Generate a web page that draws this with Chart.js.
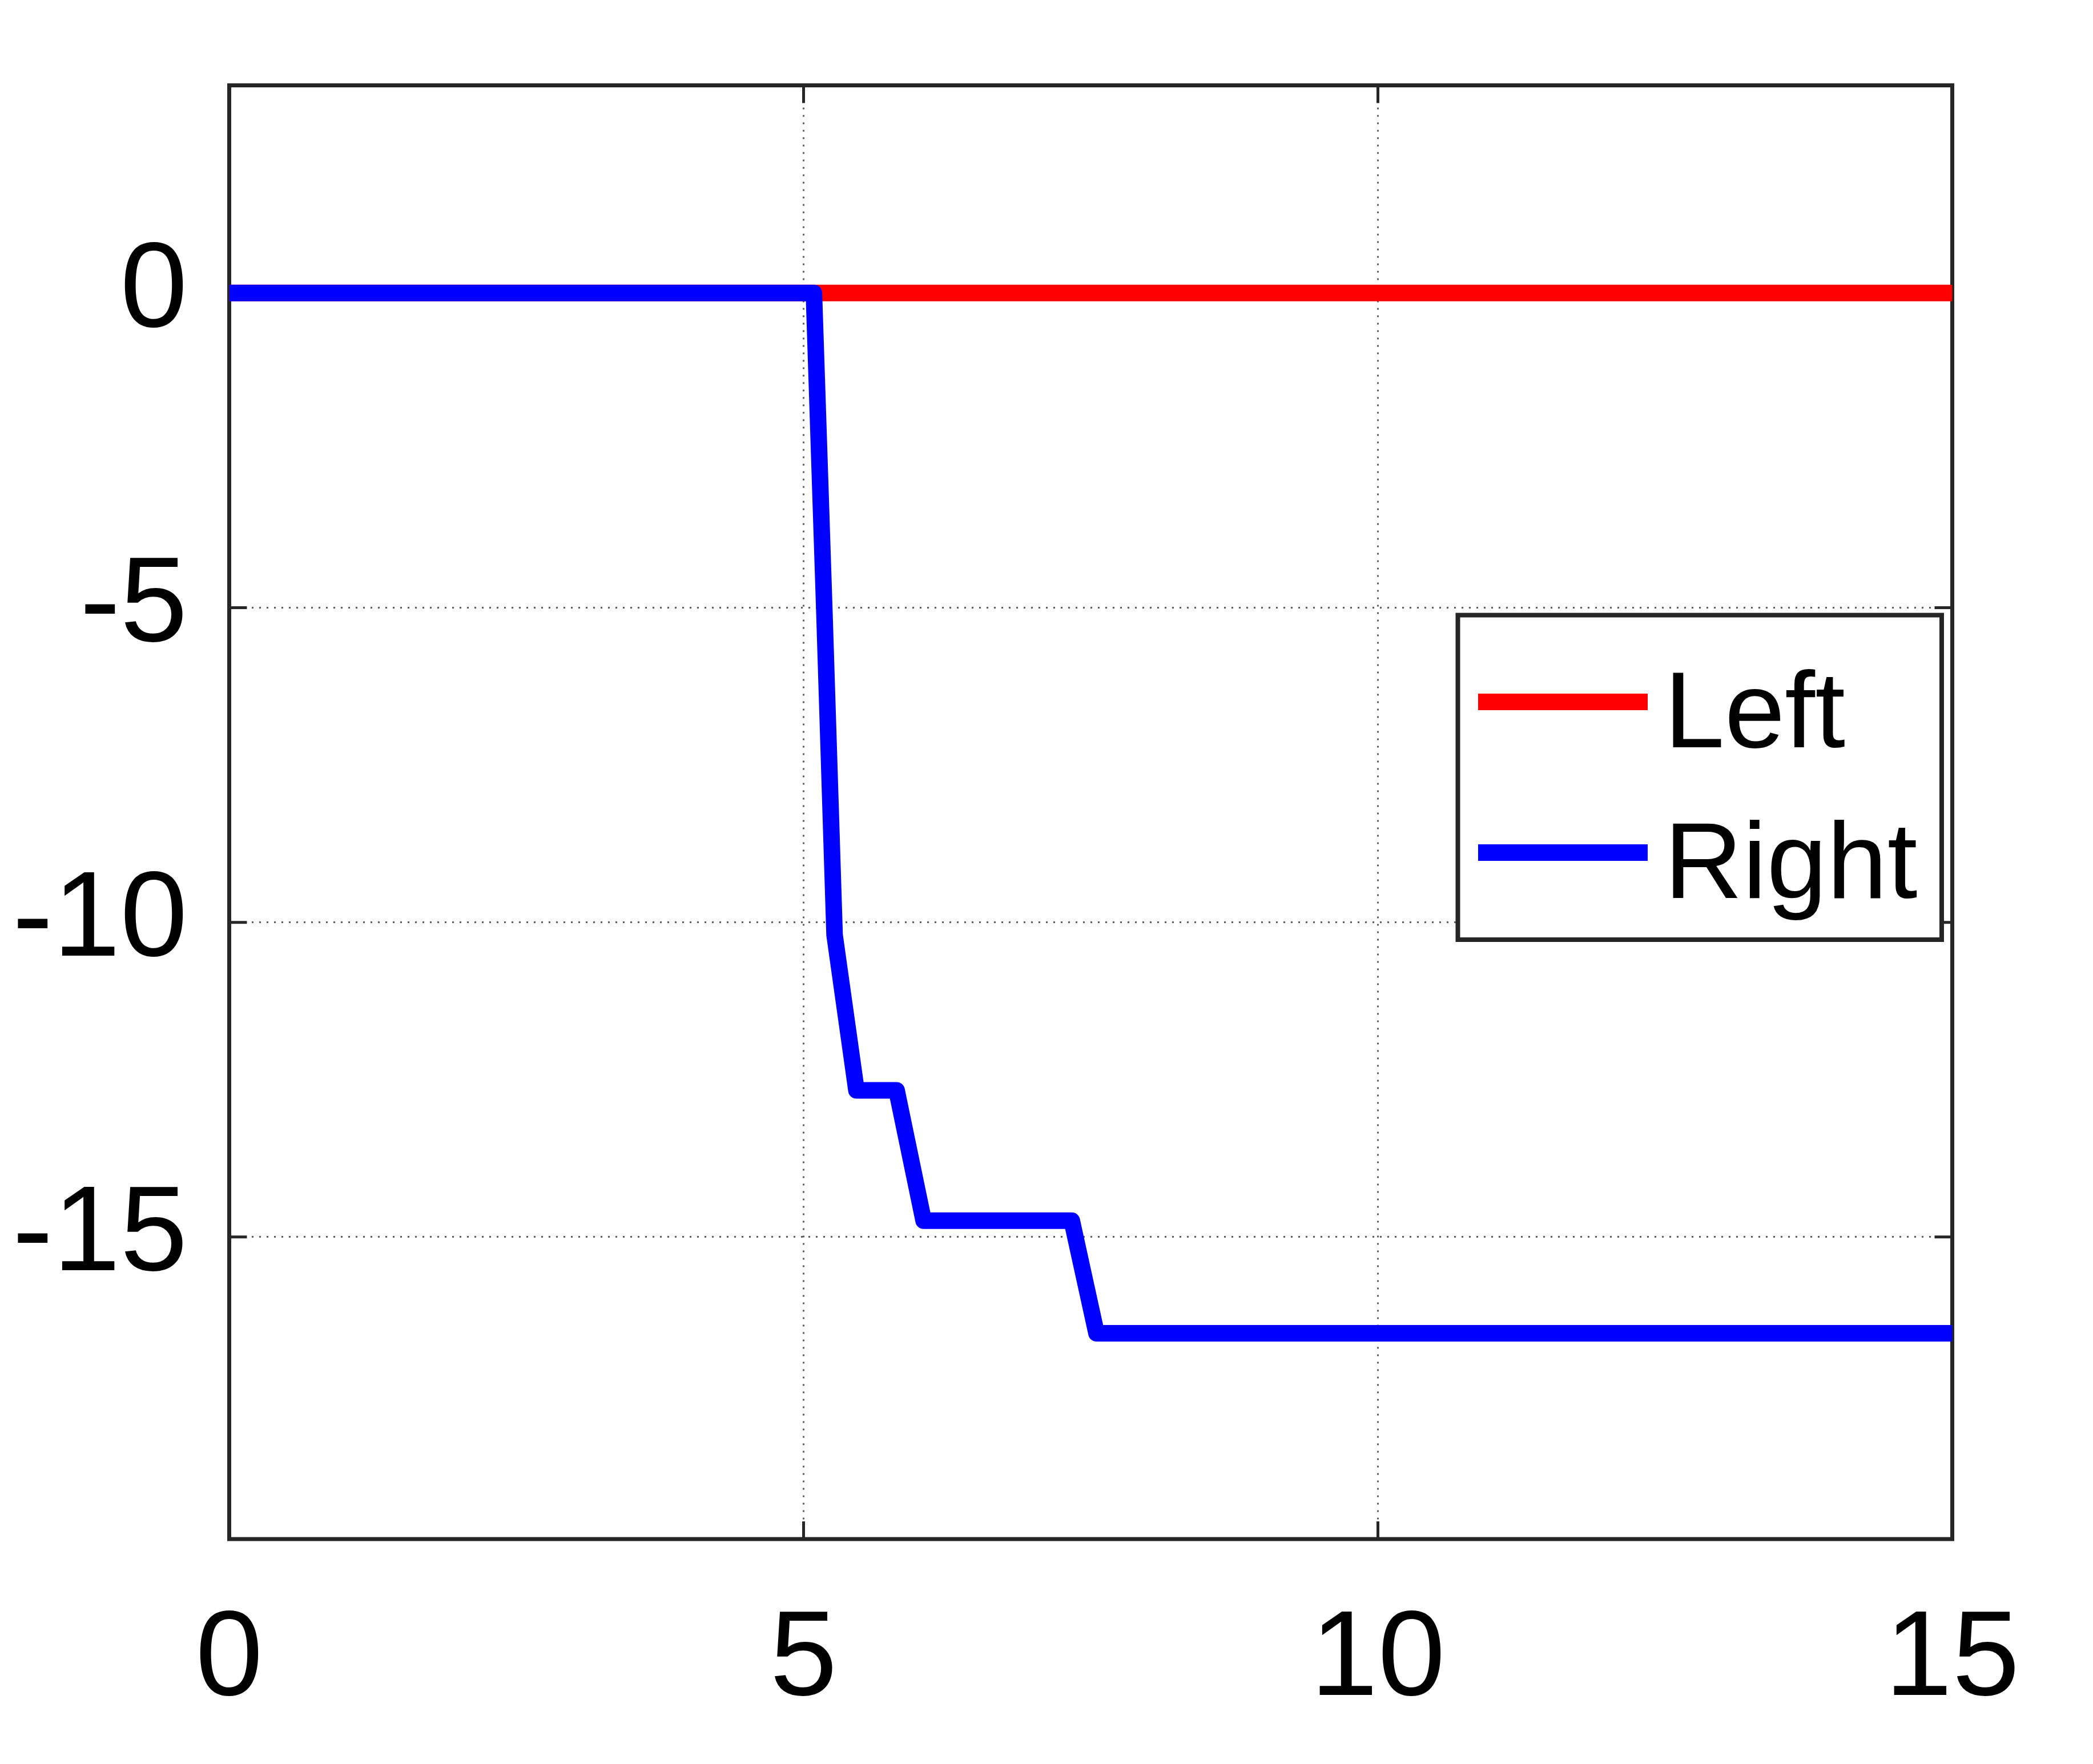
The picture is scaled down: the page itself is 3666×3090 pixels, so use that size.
<!DOCTYPE html>
<html><head><meta charset="utf-8">
<script src="https://cdn.jsdelivr.net/npm/chart.js@4.4.1/dist/chart.umd.min.js"></script>
<style>html,body{margin:0;padding:0;background:#fff;} canvas{display:block;}</style>
</head><body>
<canvas id="c" width="3666" height="3090"></canvas>
<script>
// ---- data ----
const xTicks = [0, 5, 10, 15];
const yTicks = [-15, -10, -5, 0];
const seriesNames = ['Left', 'Right'];
const seriesColors = ['#FF0000', '#0000FF'];
const leftX = [0, 15];
const leftY = [0, 0];
const rightX = [0, 5.09, 5.18, 5.27, 5.46, 5.81, 6.045, 7.335, 7.55, 15];
const rightY = [0, 0, -5, -10.2, -12.67, -12.67, -14.74, -14.74, -16.53, -16.53];
const xRange = [0, 15];
const yRange = [-19.8, 3.3];

const FONT = "'Liberation Sans', Arial, Helvetica, sans-serif";
const AX = '#262626';

function pts(xs, ys) { return xs.map((x, i) => ({x: x, y: ys[i]})); }

const framePlugin = {
  id: 'frame',
  beforeDatasetsDraw(chart) {
    const {ctx, chartArea: a, scales: {x, y}} = chart;
    const L = 31;
    ctx.save();
    ctx.strokeStyle = AX;
    ctx.lineWidth = 5;
    ctx.beginPath();
    x.ticks.forEach(t => {
      const px = x.getPixelForValue(t.value);
      ctx.moveTo(px, a.bottom); ctx.lineTo(px, a.bottom - L);
      ctx.moveTo(px, a.top); ctx.lineTo(px, a.top + L);
    });
    y.ticks.forEach(t => {
      const py = y.getPixelForValue(t.value);
      ctx.moveTo(a.left, py); ctx.lineTo(a.left + L, py);
      ctx.moveTo(a.right, py); ctx.lineTo(a.right - L, py);
    });
    ctx.stroke();
    ctx.lineWidth = 7;
    ctx.strokeRect(a.left, a.top, a.right - a.left, a.bottom - a.top);
    ctx.restore();
  }
};

const legendPlugin = {
  id: 'matlabLegend',
  afterDraw(chart) {
    const {ctx} = chart;
    const box = {l: 2553.5, t: 1077.5, r: 3401, b: 1646};
    const rows = [1229.5, 1493.5];
    ctx.save();
    ctx.fillStyle = '#fff';
    ctx.fillRect(box.l, box.t, box.r - box.l, box.b - box.t);
    ctx.strokeStyle = AX;
    ctx.lineWidth = 8;
    ctx.strokeRect(box.l, box.t, box.r - box.l, box.b - box.t);
    chart.data.datasets.forEach((ds, i) => {
      const yy = rows[i];
      ctx.strokeStyle = ds.borderColor;
      ctx.lineWidth = 29;
      ctx.lineCap = 'butt';
      ctx.beginPath();
      ctx.moveTo(2589, yy); ctx.lineTo(2886, yy);
      ctx.stroke();
      ctx.fillStyle = '#000';
      ctx.font = '190px ' + FONT;
      ctx.textBaseline = 'alphabetic';
      ctx.textAlign = 'left';
      ctx.fillText(ds.label, 2915, yy + 79.5);
    });
    ctx.restore();
  }
};

new Chart(document.getElementById('c'), {
  type: 'line',
  data: {
    datasets: [
      {label: seriesNames[0], data: pts(leftX, leftY), borderColor: seriesColors[0], order: 2},
      {label: seriesNames[1], data: pts(rightX, rightY), borderColor: seriesColors[1], order: 1}
    ].map(d => Object.assign(d, {
      borderWidth: 29, pointRadius: 0, tension: 0, fill: false,
      borderJoinStyle: 'round', borderCapStyle: 'butt'
    }))
  },
  options: {
    responsive: false,
    animation: false,
    devicePixelRatio: 1,
    layout: {padding: {top: 149.5, right: 246.5, left: 0, bottom: 0}},
    plugins: {legend: {display: false}, tooltip: {enabled: false}},
    scales: {
      x: {
        type: 'linear', min: xRange[0], max: xRange[1],
        afterBuildTicks: s => { s.ticks = xTicks.map(v => ({value: v})); },
        afterFit: s => { s.height = 394; s.paddingLeft = 0; s.paddingRight = 0; },
        ticks: {font: {size: 212, family: FONT}, color: '#000', padding: 87, autoSkip: false, maxRotation: 0},
        grid: {color: 'rgba(38,38,38,0.75)', lineWidth: 3, drawTicks: false},
        border: {display: false, dash: [3, 10]}
      },
      y: {
        type: 'linear', min: yRange[0], max: yRange[1],
        afterBuildTicks: s => { s.ticks = yTicks.map(v => ({value: v})); },
        afterFit: s => { s.width = 401.5; s.paddingTop = 0; s.paddingBottom = 0; },
        ticks: {font: {size: 212, family: FONT, lineHeight: 0.5}, color: '#000', padding: 73, autoSkip: false},
        grid: {color: 'rgba(38,38,38,0.75)', lineWidth: 3, drawTicks: false},
        border: {display: false, dash: [3, 10]}
      }
    }
  },
  plugins: [framePlugin, legendPlugin]
});
</script>
</body></html>
